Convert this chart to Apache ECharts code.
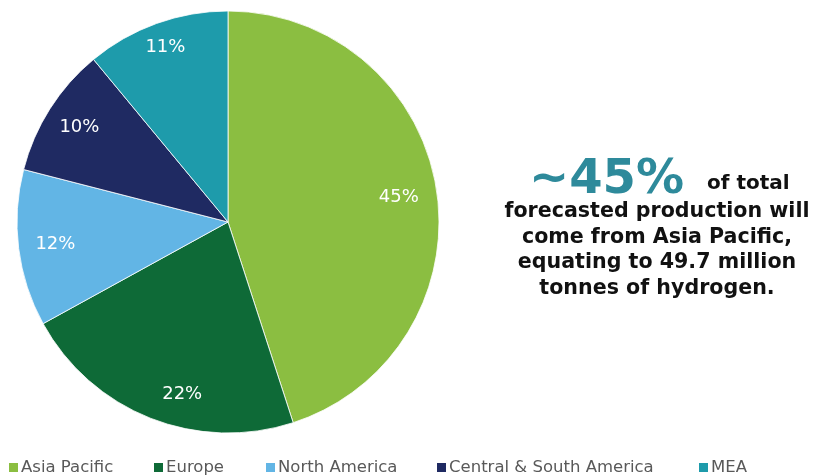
<!DOCTYPE html>
<html><head><meta charset="utf-8">
<script src="https://cdn.jsdelivr.net/npm/echarts@6/dist/echarts.min.js"></script>
<style>html,body{margin:0;padding:0;background:#fff}#c{width:814px;height:476px}</style>
</head><body><div id="c"></div>
<script>
var categories = ['Asia Pacific', 'Europe', 'North America', 'Central & South America', 'MEA'];
var values = [45, 22, 12, 10, 11];
var colors = ['#8BBE41', '#0E6A37', '#62B5E5', '#1F2A62', '#1E9BAB'];
var headline = '~45%';
var headTail = 'of total';
var bodyLines = ['forecasted production will', 'come from Asia Pacific,', 'equating to 49.7 million', 'tonnes of hydrogen.'];

// layout-only nudges for the slice labels
var labelNudge = [[-3, 3], [19, 9], [2, 0], [0, 0], [-3, -9]];
var legendLeft = [7, 152, 264, 435, 697];

var chart = echarts.init(document.getElementById('c'), null, {renderer: 'canvas'});
var data = categories.map(function (n, i) { return {name: n, value: values[i], itemStyle: {color: colors[i]}}; });
var labelData = categories.map(function (n, i) { return {name: n, value: values[i]}; });
var legends = categories.map(function (n, i) {
  return {
    top: 459, left: legendLeft[i], padding: 0,
    itemWidth: 11, itemHeight: 11, icon: 'rect',
    textStyle: {fontFamily: 'DejaVu Sans', fontSize: 16.5, color: '#595959', padding: [0, 0, 0, -3]},
    data: [n]
  };
});
chart.setOption({
  animation: false,
  legend: legends,
  series: [{
    type: 'pie', center: [228, 222], radius: [0, 211],
    startAngle: 90, clockwise: true,
    label: {show: false}, labelLine: {show: false},
    itemStyle: {borderColor: '#fff', borderWidth: 0.8},
    emphasis: {disabled: true},
    data: data
  }, {
    type: 'pie', center: [228, 222], radius: [135, 211],
    startAngle: 90, clockwise: true, silent: true,
    legendHoverLink: false,
    itemStyle: {color: 'rgba(0,0,0,0)'},
    label: {show: true, position: 'inside', formatter: '{c}%', color: '#fff', fontFamily: 'DejaVu Sans', fontSize: 18},
    labelLine: {show: false},
    labelLayout: function (p) { var d = labelNudge[p.dataIndex]; return {dx: d[0], dy: d[1]}; },
    emphasis: {disabled: true},
    data: labelData
  }],
  graphic: [{
    type: 'text',
    style: {
      x: 529, y: 181, align: 'left', verticalAlign: 'middle',
      fontFamily: 'DejaVu Sans', fontWeight: 'bold', fontSize: 48, fill: '#2E8A9B',
      text: headline
    }
  }, {
    type: 'text',
    style: {
      x: 707, y: 184, align: 'left', verticalAlign: 'middle',
      fontFamily: 'DejaVu Sans', fontWeight: 'bold', fontSize: 20, fill: '#111',
      text: headTail
    }
  }, {
    type: 'text',
    style: {
      x: 657, y: 250, align: 'center', verticalAlign: 'middle',
      fontFamily: 'DejaVu Sans', fontWeight: 'bold', fontSize: 20.6, fill: '#111', lineHeight: 25.5,
      text: bodyLines.join('\n')
    }
  }]
});
</script></body></html>
